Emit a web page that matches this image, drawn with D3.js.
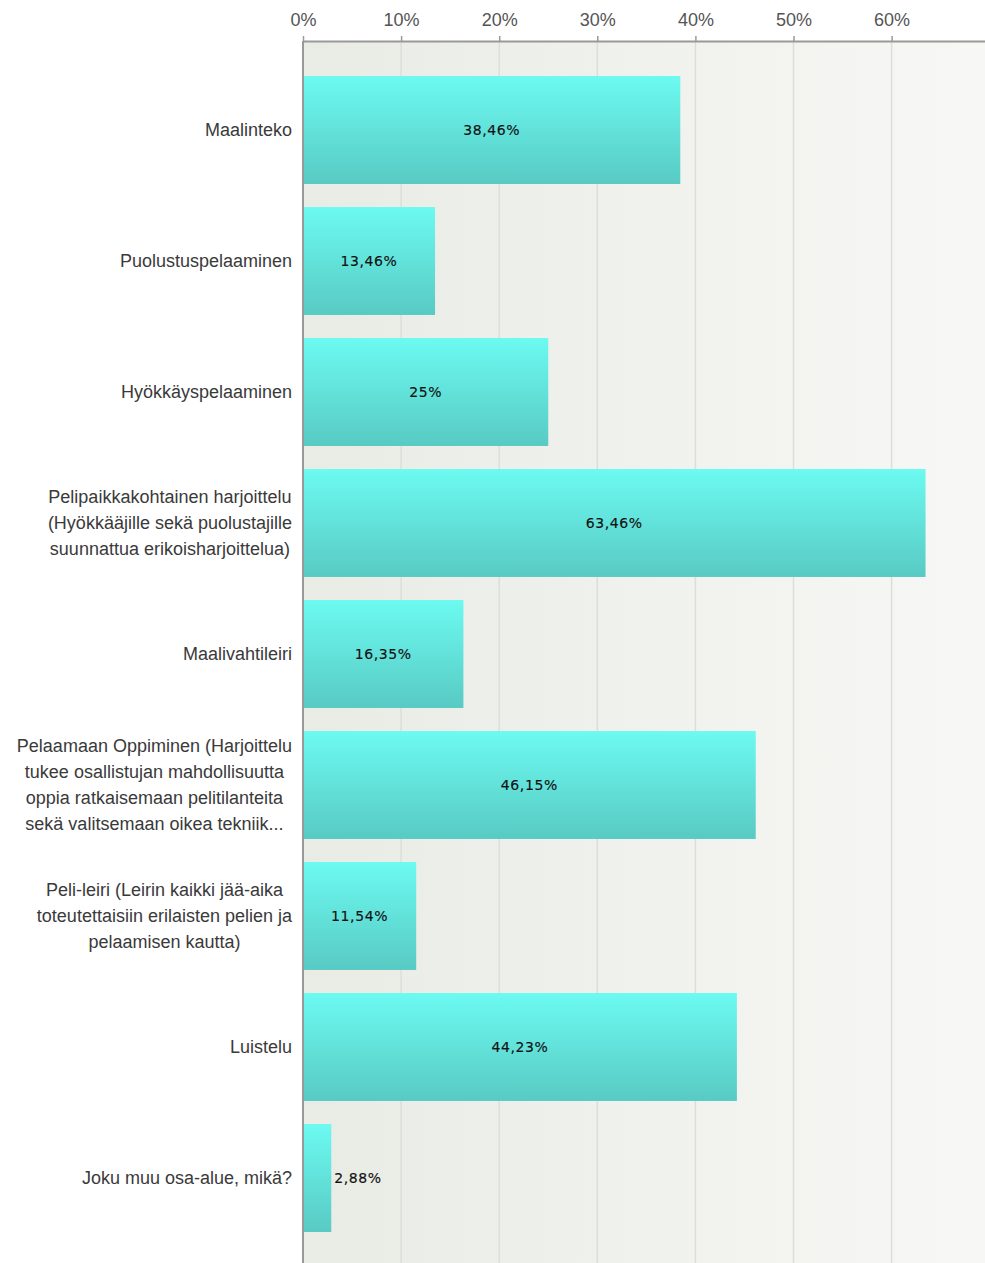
<!DOCTYPE html>
<html>
<head>
<meta charset="utf-8">
<script src="https://cdn.jsdelivr.net/npm/d3@7"></script>
<style>
  html, body { margin: 0; padding: 0; background: #ffffff; }
  svg { display: block; }
</style>
</head>
<body>
<svg id="chart" width="985" height="1263"></svg>
<script>
// Survey answers: share of respondents per training area
const categories = [
  ["Maalinteko"],
  ["Puolustuspelaaminen"],
  ["Hyökkäyspelaaminen"],
  ["Pelipaikkakohtainen harjoittelu", "(Hyökkääjille sekä puolustajille", "suunnattua erikoisharjoittelua)"],
  ["Maalivahtileiri"],
  ["Pelaamaan Oppiminen (Harjoittelu", "tukee osallistujan mahdollisuutta", "oppia ratkaisemaan pelitilanteita", "sekä valitsemaan oikea tekniik..."],
  ["Peli-leiri (Leirin kaikki jää-aika", "toteutettaisiin erilaisten pelien ja", "pelaamisen kautta)"],
  ["Luistelu"],
  ["Joku muu osa-alue, mikä?"]
];
const values = [38.46, 13.46, 25, 63.46, 16.35, 46.15, 11.54, 44.23, 2.88];
const tickValues = [0, 10, 20, 30, 40, 50, 60];

const W = 985, H = 1263;
const left = 303, axisY = 41;

const svg = d3.select("#chart");
const ids = categories.map((c, i) => "c" + i);

const x = d3.scaleLinear().domain([0, 60]).range([left, 891.6]);
const y = d3.scaleBand().domain(ids).range([64.5, 1243.5]).paddingInner(0.176).paddingOuter(0.088);

const defs = svg.append("defs");
const bg = defs.append("linearGradient").attr("id", "bgGrad").attr("x1", 0).attr("x2", 1).attr("y1", 0).attr("y2", 0);
bg.append("stop").attr("offset", "0%").attr("stop-color", "#e9ebe5");
bg.append("stop").attr("offset", "100%").attr("stop-color", "#f7f8f5");
const barGrad = defs.append("linearGradient").attr("id", "barGrad").attr("x1", 0).attr("x2", 0).attr("y1", 0).attr("y2", 1);
barGrad.append("stop").attr("offset", "0%").attr("stop-color", "#6cfaf1");
barGrad.append("stop").attr("offset", "100%").attr("stop-color", "#58cac3");

// plot background
svg.append("rect").attr("x", left).attr("y", axisY).attr("width", W - left).attr("height", H - axisY)
  .attr("fill", "url(#bgGrad)");

// vertical gridlines
svg.append("g").selectAll("line").data(tickValues.slice(1)).join("line")
  .attr("x1", d => x(d)).attr("x2", d => x(d))
  .attr("y1", axisY).attr("y2", H)
  .attr("stroke", "#dddedb").attr("stroke-width", 1.5);

// top axis
const xAxis = d3.axisTop(x).tickValues(tickValues).tickSize(5).tickPadding(10).tickFormat(d => d + "%");
const gx = svg.append("g").attr("transform", `translate(0,${axisY})`).call(xAxis);
gx.select(".domain").attr("d", `M${left},0.5H${W}`).attr("stroke", "#999").attr("stroke-width", 2);
gx.selectAll(".tick line").attr("stroke", "#999").attr("stroke-width", 1.5);
gx.selectAll(".tick text").attr("fill", "#555").style("font-family", "'Liberation Sans', Arial, sans-serif").style("font-size", "18px");

// left axis line
svg.append("line").attr("x1", left).attr("x2", left).attr("y1", axisY).attr("y2", H)
  .attr("stroke", "#999").attr("stroke-width", 2);

// bars
svg.append("g").selectAll("rect").data(values).join("rect")
  .attr("x", x(0) + 1)
  .attr("y", (d, i) => y(ids[i]))
  .attr("width", d => x(d) - x(0) - 1)
  .attr("height", y.bandwidth())
  .attr("fill", "url(#barGrad)");

// category labels: block right-aligned, lines centered within block
const labelFont = "'Liberation Sans', Arial, sans-serif";
const lineH = 26;
const gl = svg.append("g");
categories.forEach((lines, i) => {
  const cy = y(ids[i]) + y.bandwidth() / 2;
  const g = gl.append("g");
  const texts = lines.map((ln, k) => g.append("text")
    .attr("y", cy + (k - (lines.length - 1) / 2) * lineH)
    .attr("dy", "0.35em")
    .attr("text-anchor", "middle")
    .attr("fill", "#3a3a3a")
    .style("font-family", labelFont)
    .style("font-size", "18px")
    .text(ln));
  const maxW = d3.max(texts, t => t.node().getComputedTextLength());
  texts.forEach(t => t.attr("x", 292 - maxW / 2));
});

// value labels
const fmt = v => String(v).replace(".", ",") + "%";
const gv = svg.append("g");
values.forEach((v, i) => {
  const cy = y(ids[i]) + y.bandwidth() / 2;
  const t = gv.append("text")
    .attr("y", cy).attr("dy", "0.35em")
    .attr("fill", "#111")
    .attr("stroke", "#111").attr("stroke-width", 0.15)
    .style("font-family", "'DejaVu Sans', Verdana, sans-serif")
    .style("font-size", "14px")
    .style("letter-spacing", "0.6px")
    .text(fmt(v));
  const tw = t.node().getComputedTextLength();
  const bw = x(v) - x(0);
  if (bw > tw + 10) {
    t.attr("x", x(0) + bw / 2).attr("text-anchor", "middle");
  } else {
    t.attr("x", x(v) + 3).attr("text-anchor", "start");
  }
});
</script>
</body>
</html>
